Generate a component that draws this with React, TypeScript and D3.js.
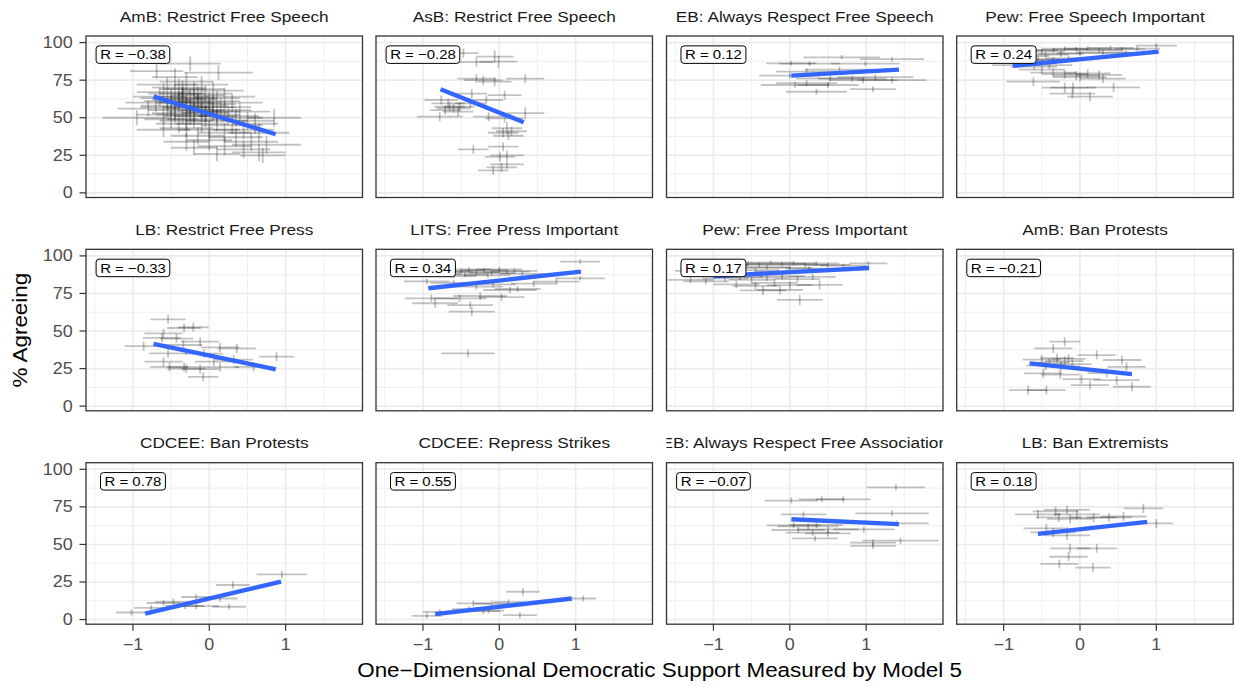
import React from "react";
import * as d3 from "d3";

// ---------------- data ----------------
const panelTitles = [
  "AmB: Restrict Free Speech",
  "AsB: Restrict Free Speech",
  "EB: Always Respect Free Speech",
  "Pew: Free Speech Important",
  "LB: Restrict Free Press",
  "LITS: Free Press Important",
  "Pew: Free Press Important",
  "AmB: Ban Protests",
  "CDCEE: Ban Protests",
  "CDCEE: Repress Strikes",
  "EB: Always Respect Free Association",
  "LB: Ban Extremists",
];

const rLabels = [
  "R = \u22120.38", "R = \u22120.28", "R = 0.12", "R = 0.24",
  "R = \u22120.33", "R = 0.34", "R = 0.17", "R = \u22120.21",
  "R = 0.78", "R = 0.55", "R = \u22120.07", "R = 0.18",
];

// fitted line endpoints [x1, y1, x2, y2]
const fitLines: number[][] = [
  [-0.73, 64, 0.87, 39],
  [-0.77, 69, 0.32, 47],
  [0.02, 78, 1.43, 82],
  [-0.88, 84.5, 1.03, 94],
  [-0.73, 41.5, 0.87, 24.5],
  [-0.93, 78.5, 1.07, 89.5],
  [-1.0, 86.5, 1.04, 92],
  [-0.66, 28.5, 0.68, 21.3],
  [-0.84, 4, 0.94, 25.2],
  [-0.84, 3.6, 0.95, 14],
  [0.02, 66.8, 1.43, 63.5],
  [-0.55, 57, 0.88, 65],
];

// points: [x, y, x half-error, y half-error]
const ptsAmbSpeech = [
  [-0.25, 86, 0.4, 5], [-0.69, 81, 0.35, 5], [0.12, 80, 0.45, 5], [-0.45, 77, 0.3, 6],
  [-0.3, 74, 0.35, 6], [-0.55, 72, 0.4, 5], [-0.1, 72, 0.35, 6], [-0.4, 70, 0.35, 6],
  [-0.2, 69, 0.4, 5], [0.05, 68, 0.4, 6], [-0.6, 67, 0.35, 6], [-0.35, 66, 0.3, 5],
  [-0.15, 65, 0.35, 6], [0.2, 64, 0.4, 6], [-0.5, 63, 0.4, 6], [-0.25, 62, 0.35, 7],
  [0.0, 61, 0.4, 6], [-0.7, 60, 0.4, 6], [-0.4, 60, 0.3, 6], [0.3, 60, 0.4, 6],
  [-0.1, 58, 0.35, 6], [-0.55, 57, 0.35, 6], [-0.3, 57, 0.3, 7], [0.15, 57, 0.4, 6],
  [-0.8, 56, 0.4, 5], [-0.45, 55, 0.35, 6], [-0.2, 54, 0.35, 7], [0.05, 54, 0.35, 6],
  [0.4, 54, 0.4, 6], [-0.6, 52, 0.35, 6], [-0.35, 52, 0.35, 6], [-0.05, 51, 0.4, 7],
  [0.25, 51, 0.4, 6], [-0.95, 50, 0.45, 5], [-0.5, 49, 0.35, 6], [-0.2, 49, 0.35, 6],
  [0.1, 48, 0.4, 7], [0.5, 48, 0.35, 6], [-0.4, 46, 0.3, 6], [-0.1, 46, 0.35, 6],
  [0.3, 45, 0.4, 6], [0.85, 50, 0.35, 6], [0.6, 46, 0.3, 7], [-0.3, 43, 0.35, 6],
  [0.0, 42, 0.4, 6], [0.45, 42, 0.4, 6], [-0.6, 42, 0.35, 5], [0.2, 40, 0.35, 6],
  [0.65, 40, 0.4, 6], [-0.15, 38, 0.35, 6], [0.35, 37, 0.35, 6], [0.0, 35, 0.3, 7],
  [0.55, 34, 0.35, 6], [-0.3, 34, 0.3, 6], [0.75, 32, 0.45, 6], [0.2, 31, 0.35, 6],
  [-0.2, 30, 0.3, 5], [0.45, 29, 0.35, 6], [0.65, 27, 0.35, 6], [0.1, 26, 0.3, 5],
  [0.7, 25, 0.3, 5], [-0.5, 58, 0.4, 7], [-0.15, 60, 0.3, 6], [-0.35, 64, 0.35, 6],
  [0.1, 63, 0.3, 5], [-0.25, 56, 0.3, 6], [0.0, 57, 0.35, 6], [-0.45, 66, 0.35, 6],
  [-0.65, 64, 0.35, 6], [0.35, 50, 0.35, 6], [-0.05, 53, 0.3, 6], [-0.3, 48, 0.35, 6],
  [-0.4, 62, 0.35, 6], [-0.2, 63, 0.3, 6], [-0.3, 60, 0.35, 6], [-0.1, 55, 0.3, 6],
  [-0.45, 53, 0.3, 6], [-0.25, 51, 0.35, 6], [0.05, 59, 0.3, 6], [-0.55, 61, 0.3, 6],
  [-0.35, 69, 0.3, 6], [-0.05, 66, 0.35, 6], [0.2, 55, 0.35, 6], [0.1, 52, 0.3, 6],
];

const ptsAsbSpeech = [
  [-0.06, 90.7, 0.25, 4], [-0.01, 87.3, 0.25, 4], [-0.3, 87, 0.22, 3], [-0.47, 93, 0.2, 3],
  [-0.3, 76, 0.25, 3], [-0.21, 75, 0.25, 3], [-0.06, 74, 0.22, 3], [0.34, 76, 0.25, 3],
  [-0.36, 66, 0.2, 3], [0.07, 65, 0.22, 3],
  [-0.76, 61.8, 0.22, 3], [-0.67, 59.6, 0.22, 3], [-0.6, 56.3, 0.22, 3], [-0.54, 54, 0.2, 3],
  [-0.65, 57.3, 0.2, 3], [-0.71, 55, 0.2, 3], [-0.78, 50.7, 0.3, 3], [-0.52, 57.3, 0.2, 3],
  [-0.38, 59.6, 0.2, 3], [-0.17, 61.8, 0.22, 3],
  [0.34, 53, 0.25, 4], [0.07, 49.6, 0.25, 3], [-0.14, 50.7, 0.2, 3],
  [0.1, 43, 0.2, 4], [0.16, 41, 0.2, 3], [0.12, 38, 0.2, 3], [0.05, 40, 0.2, 3],
  [-0.34, 29, 0.2, 3], [0.05, 30.7, 0.2, 3],
  [0.01, 23.9, 0.2, 3], [0.1, 25, 0.22, 3],
  [0.1, 19, 0.22, 3], [-0.08, 15, 0.2, 3], [0.03, 17, 0.2, 3],
];

const ptsEbSpeech = [
  [0.02, 86.2, 0.33, 1.5], [0.68, 90.2, 0.5, 1.5], [1.34, 89, 0.42, 1.5], [0.26, 86, 0.4, 1.5],
  [0.99, 86, 0.45, 1.5], [0.22, 80.7, 0.4, 2], [0.53, 76.2, 0.45, 2], [0.96, 75, 0.45, 2],
  [1.34, 75, 0.45, 2], [1.12, 77, 0.5, 2], [0.07, 71.8, 0.45, 2], [0.22, 73, 0.4, 2],
  [0.5, 71.8, 0.4, 2], [0.35, 67.3, 0.4, 2], [1.09, 69, 0.3, 2], [0.82, 76, 0.45, 2],
  [0.0, 78, 0.4, 2], [0.65, 82, 0.45, 2],
];

const ptsPewSpeech = [
  [1.0, 98, 0.27, 1.5], [0.75, 96, 0.3, 1.5], [0.55, 95.5, 0.3, 1.5], [0.4, 96.5, 0.3, 1.5],
  [0.25, 95, 0.3, 1.5], [0.1, 96, 0.3, 1.5], [-0.05, 95.5, 0.3, 1.5], [-0.2, 96, 0.3, 1.5],
  [-0.35, 95, 0.3, 1.5], [-0.5, 94, 0.3, 1.5], [-0.6, 95, 0.3, 1.5], [0.3, 93.5, 0.35, 1.5],
  [0.0, 93, 0.3, 1.5], [-0.25, 92.5, 0.3, 2], [-0.45, 92, 0.3, 2], [0.6, 93, 0.3, 1.5],
  [-0.7, 91, 0.3, 2], [-0.55, 89, 0.3, 2], [-0.35, 88.5, 0.3, 2], [-0.75, 88, 0.3, 2],
  [-0.15, 89.5, 0.3, 2], [-0.85, 85, 0.3, 2], [-0.6, 84, 0.3, 2], [-0.4, 85, 0.3, 2.5],
  [-0.35, 80, 0.3, 3], [-0.2, 79, 0.3, 3], [-0.05, 78, 0.3, 3], [0.1, 79.5, 0.3, 3],
  [0.25, 78.5, 0.3, 3], [0.0, 77, 0.35, 3], [-0.61, 74, 0.35, 3], [-0.2, 70, 0.3, 3.5],
  [-0.09, 70, 0.3, 3.5], [0.44, 70.2, 0.35, 3], [0.13, 64, 0.3, 3], [-0.1, 66, 0.3, 3],
  [0.3, 76, 0.3, 3], [-0.5, 82, 0.3, 2.5],
];

const ptsLbPress = [
  [-0.54, 57.8, 0.23, 3], [-0.21, 52.5, 0.2, 3], [-0.33, 52, 0.22, 3], [-0.6, 48.4, 0.25, 3],
  [-0.62, 45.5, 0.25, 3], [-0.43, 45, 0.22, 3], [-0.12, 42.9, 0.25, 3], [-0.86, 40, 0.25, 3],
  [-0.34, 40.7, 0.25, 3], [0.14, 39.1, 0.25, 3], [0.36, 38.4, 0.25, 3], [-0.54, 35.1, 0.25, 3],
  [-0.07, 35, 0.25, 3], [0.88, 32.9, 0.23, 3], [-0.6, 29.6, 0.25, 3], [0.06, 29.6, 0.25, 3],
  [0.58, 26.2, 0.25, 3], [-0.52, 26.2, 0.25, 3], [-0.3, 25, 0.25, 3], [-0.12, 24.7, 0.25, 3],
  [0.14, 26, 0.25, 3], [-0.08, 19.5, 0.2, 3], [-0.33, 26, 0.22, 3], [0.32, 31, 0.25, 3],
];

const ptsLitsPress = [
  [1.06, 96.2, 0.26, 1.5], [1.06, 85.1, 0.32, 1.5],
  [-0.8, 88, 0.3, 1.5], [-0.65, 89.5, 0.3, 1.5], [-0.5, 90, 0.3, 1.5], [-0.4, 91, 0.3, 1.5],
  [-0.3, 89, 0.3, 1.5], [-0.2, 90.5, 0.3, 1.5], [-0.1, 88.5, 0.3, 1.5], [0.0, 91, 0.3, 1.5],
  [0.1, 89.5, 0.3, 1.5], [0.2, 90, 0.3, 1.5], [-0.45, 87.5, 0.3, 1.5], [-0.15, 87, 0.3, 1.5],
  [-0.6, 86.5, 0.3, 1.5], [0.3, 88, 0.3, 1.5],
  [-0.95, 83, 0.3, 2], [-0.3, 79.5, 0.35, 2], [0.14, 77.3, 0.35, 2], [0.24, 78, 0.3, 2],
  [0.75, 82.9, 0.3, 2], [-0.08, 81, 0.3, 2], [-0.6, 82, 0.3, 2], [0.45, 81.5, 0.3, 2],
  [-0.89, 71.8, 0.35, 2.5], [-0.84, 68.5, 0.3, 3], [-0.52, 71.8, 0.35, 2.5], [-0.25, 73.3, 0.35, 2.5],
  [0.03, 72.5, 0.3, 2.5], [-0.38, 67.3, 0.3, 2.5], [-0.36, 62.9, 0.3, 3], [-0.41, 35.1, 0.35, 2.5],
];

const ptsPewPress = [
  [1.03, 95, 0.25, 1.5],
  [-1.2, 90, 0.3, 1.5], [-1.0, 92, 0.3, 1.5], [-0.85, 93.5, 0.3, 1.5], [-0.7, 94.5, 0.3, 1.5],
  [-0.55, 95, 0.3, 1.5], [-0.4, 94, 0.3, 1.5], [-0.25, 95.5, 0.3, 1.5], [-0.1, 94.5, 0.3, 1.5],
  [0.05, 95, 0.3, 1.5], [0.2, 94, 0.3, 1.5], [0.35, 95, 0.3, 1.5], [0.5, 94, 0.3, 1.5],
  [0.7, 93.5, 0.3, 1.5], [-0.6, 92, 0.3, 1.5], [-0.3, 92.5, 0.3, 1.5], [0.0, 92, 0.3, 1.5],
  [-0.9, 90, 0.3, 1.5], [-0.45, 90.5, 0.3, 1.5], [0.25, 91.5, 0.3, 1.5], [-0.15, 89.5, 0.3, 1.5],
  [-1.3, 84, 0.3, 2], [-1.1, 83, 0.3, 2], [-0.85, 85, 0.3, 2], [-0.65, 86, 0.3, 2],
  [-0.5, 84, 0.3, 2], [-0.3, 85.5, 0.3, 2], [-0.1, 86.5, 0.3, 2], [0.1, 84.5, 0.3, 2],
  [0.3, 86, 0.3, 2], [-0.7, 81, 0.3, 2.5], [-0.45, 80, 0.3, 2.5], [-0.2, 82, 0.3, 2.5],
  [0.0, 80.5, 0.3, 2.5], [-0.13, 77.3, 0.3, 3], [0.39, 80.7, 0.3, 3], [0.13, 70.7, 0.3, 3.5],
  [-0.35, 77, 0.3, 3],
];

const ptsAmbProtest = [
  [-0.2, 42.9, 0.2, 3], [-0.35, 38.4, 0.25, 3], [0.22, 34, 0.25, 3], [0.55, 30.7, 0.25, 3],
  [-0.5, 31, 0.25, 3], [-0.4, 29, 0.25, 3], [-0.3, 32, 0.22, 3], [-0.2, 30, 0.25, 3],
  [-0.1, 28, 0.25, 3], [-0.45, 27, 0.25, 3], [-0.25, 26.5, 0.25, 3], [-0.15, 31.5, 0.22, 3],
  [-0.48, 21.8, 0.25, 3], [-0.26, 21, 0.25, 3], [0.61, 26.2, 0.25, 3], [0.48, 17.3, 0.3, 3],
  [0.13, 14, 0.25, 3], [0.68, 12.9, 0.25, 3], [-0.68, 10.7, 0.25, 3], [-0.44, 10.7, 0.25, 3],
  [0.02, 18, 0.25, 3], [0.35, 22, 0.25, 3],
];

const ptsCdceeProtest = [
  [0.95, 30, 0.33, 2.5], [0.31, 23, 0.22, 2.5], [-0.17, 15, 0.2, 2], [0.14, 14, 0.23, 2],
  [-0.47, 11.8, 0.24, 2], [-0.6, 11, 0.22, 2], [-0.17, 8.9, 0.3, 2], [0.26, 8.5, 0.22, 2],
  [-0.32, 9, 0.25, 2], [-1.02, 4.7, 0.2, 2], [-0.76, 7.8, 0.22, 2],
];

const ptsCdceeStrike = [
  [0.31, 18.5, 0.22, 2.5], [1.1, 14, 0.17, 2], [-0.34, 10.7, 0.22, 2], [-0.1, 10.5, 0.22, 2],
  [0.12, 11.5, 0.2, 2], [-0.21, 5.6, 0.22, 2], [-0.14, 6, 0.2, 2], [-0.78, 5.1, 0.22, 2],
  [0.27, 2.9, 0.22, 2], [-0.95, 2.5, 0.2, 2], [-0.4, 7, 0.22, 2],
];

const ptsEbAssoc = [
  [1.39, 88, 0.38, 2], [0.02, 79.2, 0.35, 2], [0.42, 80, 0.3, 2], [0.7, 80, 0.36, 2],
  [0.18, 70, 0.3, 2], [1.34, 70.7, 0.48, 2], [1.4, 64, 0.42, 2],
  [0.05, 62.7, 0.35, 2], [0.24, 62, 0.4, 2], [0.35, 63, 0.35, 2], [0.5, 60, 0.4, 2],
  [0.3, 57.8, 0.35, 2], [0.11, 59.6, 0.35, 2], [0.97, 60, 0.4, 2], [0.5, 57.3, 0.3, 2],
  [0.33, 54, 0.3, 2], [1.45, 52.5, 0.5, 2], [1.09, 51.2, 0.3, 2], [1.09, 49, 0.3, 2],
];

const ptsLbExtrem = [
  [0.83, 74, 0.26, 3], [-0.17, 73, 0.3, 3], [-0.32, 72, 0.3, 3], [-0.55, 70, 0.3, 3],
  [-0.04, 70, 0.3, 3], [0.57, 68.6, 0.3, 3], [0.38, 68, 0.3, 3], [0.18, 67.8, 0.3, 3],
  [-0.28, 68, 0.3, 3], [-0.13, 67, 0.3, 3], [1.0, 64, 0.22, 3], [-0.44, 60.7, 0.3, 3],
  [-0.35, 58, 0.3, 3], [-0.17, 56, 0.3, 3], [0.22, 47.4, 0.26, 3], [-0.13, 47.4, 0.26, 3],
  [-0.15, 41.8, 0.25, 3], [-0.27, 37, 0.25, 3], [0.17, 34.5, 0.23, 3],
];

const panelPoints = [
  ptsAmbSpeech, ptsAsbSpeech, ptsEbSpeech, ptsPewSpeech,
  ptsLbPress, ptsLitsPress, ptsPewPress, ptsAmbProtest,
  ptsCdceeProtest, ptsCdceeStrike, ptsEbAssoc, ptsLbExtrem,
];

const xTicks = [-1, 0, 1];
const xTickLabels = ["\u22121", "0", "1"];
const xMinor = [-1.5, -0.5, 0.5, 1.5];
const yTicks = [0, 25, 50, 75, 100];
const yMinor = [12.5, 37.5, 62.5, 87.5];

const xTitle = "One\u2212Dimensional Democratic Support Measured by Model 5";
const yTitle = "% Agreeing";

// ---------------- layout ----------------
const W = 1236;
const H = 686;
const colLefts = [86, 376, 666.5, 956.7];
const rowTops = [36, 249.3, 462.7];
const PW = 276.5;
const PH = 161.5;
const SX = 1.15;
const FONT = "'Liberation Sans', Arial, Helvetica, sans-serif";

function measure(text: string, size: number): number {
  try {
    const c = document.createElement("canvas");
    const ctx = c.getContext("2d");
    if (ctx) {
      ctx.font = `${size}px "Liberation Sans", Arial, sans-serif`;
      return ctx.measureText(text).width * SX;
    }
  } catch (e) {}
  return text.length * size * 0.55 * SX;
}

function T(props: any) {
  const { x, y, size, anchor = "start", fill = "#1a1a1a", rotate = 0, children } = props;
  return (
    <text
      transform={`translate(${x},${y}) rotate(${rotate}) scale(${SX},1)`}
      fontSize={size}
      textAnchor={anchor}
      fill={fill}
      fontFamily={FONT}
    >
      {children}
    </text>
  );
}

function Panel({ idx }: { idx: number }) {
  const col = idx % 4;
  const row = Math.floor(idx / 4);
  const L = colLefts[col];
  const Tp = rowTops[row];
  const x = d3.scaleLinear().domain([-1.615, 2.007]).range([L, L + PW]);
  const y = d3.scaleLinear().domain([-3.1, 104.4]).range([Tp + PH, Tp]);
  const pts = panelPoints[idx];
  const fl = fitLines[idx];
  const label = rLabels[idx];
  const lw = measure(label, 13) + 8;
  const lh = 17.5;
  const lcx = x(-1);
  const lcy = y(92);
  const clipId = `clip-${idx}`;
  const stripId = `strip-${idx}`;
  const lineGen = d3.line<number[]>().x((d) => x(d[0])).y((d) => y(d[1]));
  return (
    <g>
      <defs>
        <clipPath id={clipId}>
          <rect x={L} y={Tp} width={PW} height={PH} />
        </clipPath>
        <clipPath id={stripId}>
          <rect x={L} y={Tp - 26} width={PW} height={26} />
        </clipPath>
      </defs>
      <rect x={L} y={Tp} width={PW} height={PH} fill="#fff" />
      <g clipPath={`url(#${clipId})`}>
        {xMinor.map((v) => (
          <line key={"xm" + v} x1={x(v)} x2={x(v)} y1={Tp} y2={Tp + PH} stroke="#ebebeb" strokeWidth={0.8} />
        ))}
        {yMinor.map((v) => (
          <line key={"ym" + v} x1={L} x2={L + PW} y1={y(v)} y2={y(v)} stroke="#ebebeb" strokeWidth={0.8} />
        ))}
        {xTicks.map((v) => (
          <line key={"xM" + v} x1={x(v)} x2={x(v)} y1={Tp} y2={Tp + PH} stroke="#ebebeb" strokeWidth={1.6} />
        ))}
        {yTicks.map((v) => (
          <line key={"yM" + v} x1={L} x2={L + PW} y1={y(v)} y2={y(v)} stroke="#ebebeb" strokeWidth={1.6} />
        ))}
        {pts.map((p, i) => (
          <g key={i} stroke="#000" strokeOpacity={0.24} strokeWidth={1.8}>
            <line x1={x(p[0] - p[2])} x2={x(p[0] + p[2])} y1={y(p[1])} y2={y(p[1])} />
            <line x1={x(p[0])} x2={x(p[0])} y1={y(p[1] - p[3])} y2={y(p[1] + p[3])} />
          </g>
        ))}
        <path
          d={lineGen([[fl[0], fl[1]], [fl[2], fl[3]]]) || ""}
          stroke="#3366FF"
          strokeWidth={4.4}
          fill="none"
        />
        <rect
          x={lcx - lw / 2}
          y={lcy - lh / 2}
          width={lw}
          height={lh}
          rx={3}
          ry={3}
          fill="#fff"
          stroke="#000"
          strokeWidth={1}
        />
        <T x={lcx} y={lcy + 4.7} size={13} anchor="middle" fill="#000">
          {label}
        </T>
      </g>
      <rect x={L} y={Tp} width={PW} height={PH} fill="none" stroke="#333333" strokeWidth={1.3} />
      <g clipPath={`url(#${stripId})`}>
        <T x={L + PW / 2} y={Tp - 14.5} size={15} anchor="middle" fill="#1a1a1a">
          {panelTitles[idx]}
        </T>
      </g>
      {col === 0 &&
        yTicks.map((v) => (
          <g key={"yt" + v}>
            <line x1={L - 6.5} x2={L} y1={y(v)} y2={y(v)} stroke="#333333" strokeWidth={1.2} />
            <T x={L - 13.3} y={y(v) + 5.5} size={15.6} anchor="end" fill="#4d4d4d">
              {String(v)}
            </T>
          </g>
        ))}
      {row === 2 &&
        xTicks.map((v, i) => (
          <g key={"xt" + v}>
            <line x1={x(v)} x2={x(v)} y1={Tp + PH} y2={Tp + PH + 6.5} stroke="#333333" strokeWidth={1.2} />
            <T x={x(v)} y={650} size={15.6} anchor="middle" fill="#4d4d4d">
              {xTickLabels[i]}
            </T>
          </g>
        ))}
    </g>
  );
}

export default function App() {
  const panels = d3.range(12);
  return (
    <svg
      width={W}
      height={H}
      viewBox={`0 0 ${W} ${H}`}
      style={{ position: "absolute", left: 0, top: 0, display: "block", background: "#fff" }}
    >
      <rect x={0} y={0} width={W} height={H} fill="#fff" />
      {panels.map((i) => (
        <Panel key={i} idx={i} />
      ))}
      <T x={(colLefts[0] + colLefts[3] + PW) / 2} y={677.3} size={19.5} anchor="middle" fill="#000">
        {xTitle}
      </T>
      <T x={27} y={(rowTops[0] + rowTops[2] + PH) / 2} size={19.5} anchor="middle" fill="#000" rotate={-90}>
        {yTitle}
      </T>
    </svg>
  );
}
